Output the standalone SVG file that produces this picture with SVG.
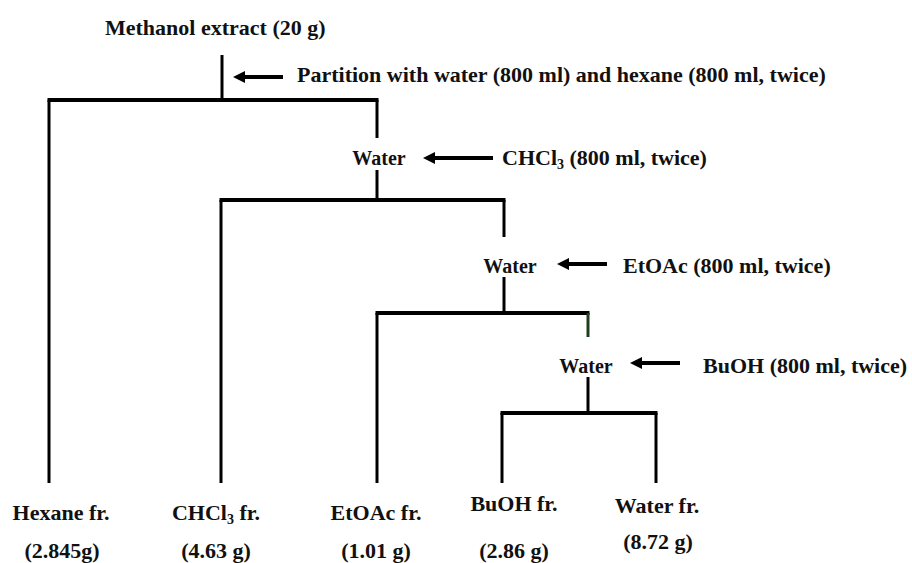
<svg xmlns="http://www.w3.org/2000/svg" width="912" height="563" viewBox="0 0 912 563">
<style>
  text { font-family: "Liberation Serif", "Times New Roman", "DejaVu Serif", serif; font-weight: bold; fill: #111; }
  .lbl { font-size: 22px; }
  .w { font-size: 20px; text-anchor: middle; }
  .frac { font-size: 22px; text-anchor: middle; }
  .sub { font-size: 14px; }
  .v { stroke: #000; stroke-width: 3; fill: none; }
  .h { stroke: #000; stroke-width: 4; fill: none; }
  .arr { stroke: #000; stroke-width: 4; fill: none; marker-end: url(#head); }
</style>
<defs>
  <marker id="head" viewBox="0 0 12 12" refX="2" refY="6" markerWidth="12" markerHeight="12" markerUnits="userSpaceOnUse" orient="auto">
    <path d="M0,0 L12,6 L0,12 z" fill="#000"/>
  </marker>
</defs>
<rect width="912" height="563" fill="#fff"/>

<g id="connectors">
  <line class="v" x1="222" y1="55" x2="222" y2="100"/>
  <line class="h" x1="47.5" y1="100" x2="378.5" y2="100"/>
  <line class="v" x1="49" y1="100" x2="49" y2="483"/>
  <line class="v" x1="377" y1="100" x2="377" y2="138"/>
  <line class="v" x1="377" y1="170" x2="377" y2="200"/>
  <line class="h" x1="219.5" y1="200" x2="505.5" y2="200"/>
  <line class="v" x1="221" y1="200" x2="221" y2="483"/>
  <line class="v" x1="504" y1="200" x2="504" y2="237"/>
  <line class="v" x1="504" y1="277" x2="504" y2="313"/>
  <line class="h" x1="375.5" y1="313" x2="589.5" y2="313"/>
  <line class="v" x1="377" y1="313" x2="377" y2="483"/>
  <line class="v" x1="588" y1="313" x2="588" y2="337" style="stroke:#1f3f1f"/>
  <line class="v" x1="588" y1="377" x2="588" y2="413"/>
  <line class="h" x1="500.5" y1="413" x2="657.5" y2="413"/>
  <line class="v" x1="502" y1="413" x2="502" y2="483"/>
  <line class="v" x1="656" y1="413" x2="656" y2="483"/>
  <line class="arr" x1="283" y1="77" x2="243" y2="77"/>
  <line class="arr" x1="493" y1="158" x2="433" y2="158"/>
  <line class="arr" x1="607" y1="264" x2="567" y2="264"/>
  <line class="arr" x1="680" y1="363" x2="640" y2="363"/>
</g>

<g id="methanol-extract">
  <text class="lbl" x="105" y="35">Methanol extract (20 g)</text>
</g>
<g id="partition-hexane">
  <text class="lbl" x="297" y="82">Partition with water (800 ml) and hexane (800 ml, twice)</text>
</g>
<g id="water-1">
  <text class="w" x="379" y="165">Water</text>
</g>
<g id="chcl3-step">
  <text class="lbl" x="502" y="165">CHCl<tspan class="sub" dy="4">3</tspan><tspan dy="-4"> (800 ml, twice)</tspan></text>
</g>
<g id="water-2">
  <text class="w" x="510" y="273">Water</text>
</g>
<g id="etoac-step">
  <text class="lbl" x="623" y="273">EtOAc (800 ml, twice)</text>
</g>
<g id="water-3">
  <text class="w" x="586" y="373">Water</text>
</g>
<g id="buoh-step">
  <text class="lbl" x="703" y="373">BuOH (800 ml, twice)</text>
</g>

<g id="hexane-fr">
  <text class="frac" x="61" y="520">Hexane fr.</text>
  <text class="frac" x="62" y="558">(2.845g)</text>
</g>
<g id="chcl3-fr">
  <text class="frac" x="216" y="520">CHCl<tspan class="sub" dy="4">3</tspan><tspan dy="-4"> fr.</tspan></text>
  <text class="frac" x="216" y="558">(4.63 g)</text>
</g>
<g id="etoac-fr">
  <text class="frac" x="376" y="520">EtOAc fr.</text>
  <text class="frac" x="376" y="558">(1.01 g)</text>
</g>
<g id="buoh-fr">
  <text class="frac" x="514" y="511">BuOH fr.</text>
  <text class="frac" x="514" y="558">(2.86 g)</text>
</g>
<g id="water-fr">
  <text class="frac" x="657" y="513">Water fr.</text>
  <text class="frac" x="658" y="549">(8.72 g)</text>
</g>
</svg>
